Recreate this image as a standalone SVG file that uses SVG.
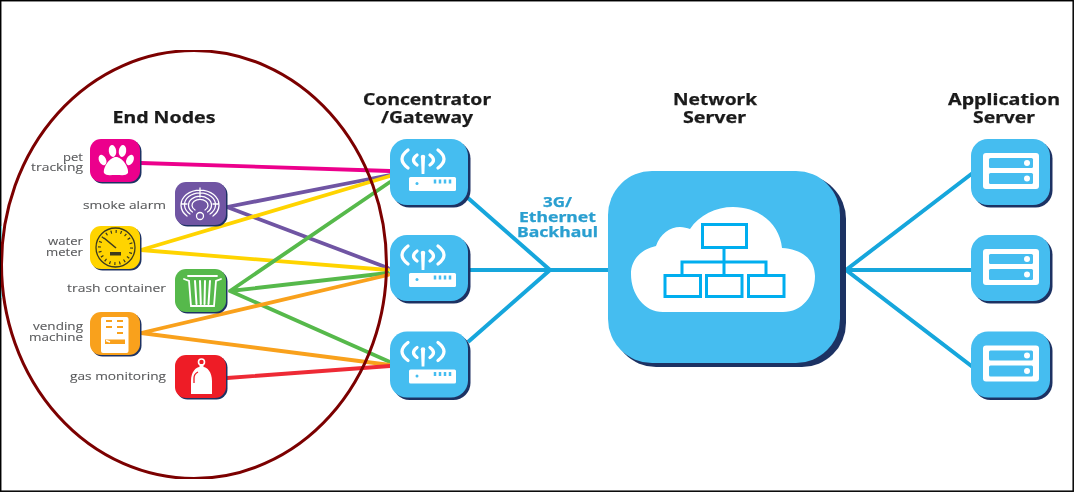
<svg xmlns="http://www.w3.org/2000/svg" width="1074" height="492" viewBox="0 0 1074 492">
<style>
.h{font-family:"Noto Sans","Open Sans","Liberation Sans",sans-serif;font-weight:700;font-size:16.500px;fill:#1a1a1a;stroke:#1a1a1a;stroke-width:.25}
.b{font-family:"Noto Sans","Open Sans","Liberation Sans",sans-serif;font-weight:700;font-size:15px;fill:#2a9fd0;stroke:#2a9fd0;stroke-width:.25}
.l{font-family:"Open Sans","Liberation Sans",sans-serif;font-size:11.500px;fill:#58595b;stroke:#58595b;stroke-width:.1}
.sh{fill:#1f3364}
.bl{fill:#44bdf0}
.w{fill:#fff}
.ws{fill:none;stroke:#fff;stroke-linecap:round}
.c{fill:none;stroke-width:3.800;stroke-linecap:round}
.bk{fill:none;stroke:#14a6dc;stroke-width:4}
.o{fill:none;stroke:#00aeef;stroke-width:3}
</style>
<defs>
<filter id="soft" x="0" y="0" width="100%" height="100%"><feGaussianBlur stdDeviation="0.4"/></filter>
<g id="gw">
<rect class="sh" x="2.500" y="2.500" width="78" height="66" rx="17"/>
<rect class="bl" width="78" height="66" rx="17"/>
<path class="ws" stroke-width="3.300" d="M18 11Q6 20 18 29M48 11Q60 20 48 29M27 16Q20 21 27 26M40 16Q47 21 40 26"/>
<circle class="w" cx="33" cy="18" r="2.300"/>
<path class="w" d="M31 18h4l-.6 17h-2.800z"/>
<rect class="w" x="19" y="38" width="47" height="14" rx="1.500"/>
<circle class="bl" cx="27" cy="44.500" r="1.500"/>
<path d="M45 40.500v4M50 40.500v4M55 40.500v4M60 40.500v4" stroke="#44bdf0" stroke-width="2.500"/>
</g>
<g id="srv">
<rect class="sh" x="2.500" y="2.500" width="79" height="66" rx="17"/>
<rect class="bl" width="79" height="66" rx="17"/>
<rect class="w" x="12" y="14" width="56" height="36" rx="3"/>
<rect class="bl" x="18" y="19" width="44" height="10" rx="1.500"/>
<rect class="bl" x="18" y="34" width="44" height="11" rx="1.500"/>
<circle class="w" cx="56" cy="24" r="3"/>
<circle class="w" cx="56" cy="39.500" r="3"/>
</g>
</defs>
<rect width="1074" height="492" fill="#fff"/>
<rect x="0.700" y="0.700" width="1072.500" height="490.500" fill="none" stroke="#000" stroke-width="1.500"/>
<g filter="url(#soft)">
<path d="M1 226V298" stroke="#5fe3ea" stroke-width="1.500"/>

<g id="connectors">
<path class="c" stroke="#ec008c" d="M141 163L390 171"/>
<path class="c" stroke="#6f54a3" d="M227 207L390 175M227 207L388 268"/>
<path class="c" stroke="#ffd400" d="M141 250L390 176M141 250L388 270"/>
<path class="c" stroke="#57b94b" d="M230 291L390 182M230 291L388 273M230 291L390 362"/>
<path class="c" stroke="#f9a11b" d="M141 333L388 275M141 333L390 365"/>
<path class="c" stroke="#ee2a35" d="M227 378L390 366"/>
<path class="bk" d="M468 198L550 270L468 342M470 270H610"/>
<path class="bk" d="M974 172L846 270L974 368M846 270H974"/>
</g>

<g id="node-pet">
<rect class="sh" x="91.500" y="140.500" width="50" height="43" rx="11"/>
<rect x="90" y="139" width="50" height="43" rx="11" fill="#ec008c"/>
<ellipse class="w" cx="102.500" cy="160" rx="3.500" ry="5.500" transform="rotate(-25 102.500 160)"/>
<ellipse class="w" cx="112.500" cy="151" rx="3.700" ry="6" transform="rotate(-8 112.500 151)"/>
<ellipse class="w" cx="122.500" cy="151" rx="3.700" ry="6" transform="rotate(8 122.500 151)"/>
<ellipse class="w" cx="130" cy="160" rx="3.500" ry="5.500" transform="rotate(25 130 160)"/>
<path class="w" d="M104 173C103 167 110 157 116 157C122 157 129 167 128 173C126 176 122 175 116 175C110 175 106 176 104 173Z"/>
<text class="l" x="63" y="160.500" textLength="20" lengthAdjust="spacingAndGlyphs">pet</text>
<text class="l" x="31" y="171" textLength="52" lengthAdjust="spacingAndGlyphs">tracking</text>
</g>

<g id="node-smoke">
<rect class="sh" x="176.500" y="183.500" width="51" height="43" rx="11"/>
<rect x="175" y="182" width="51" height="43" rx="11" fill="#6f54a3"/>
<path class="ws" stroke-width="1.300" d="M187 216A19 15 0 1 1 213 216M190 214A15.500 12 0 1 1 210 214M192.500 212A11.500 9 0 1 1 207.500 212M195 210A8 6 0 1 1 205 210M200 188V197M181 204H187M213 204H219"/>
<circle cx="200" cy="216" r="3.500" fill="none" stroke="#fff" stroke-width="1.300"/>
<text class="l" x="83" y="209" textLength="83" lengthAdjust="spacingAndGlyphs">smoke alarm</text>
</g>

<g id="node-water">
<rect class="sh" x="91.500" y="227.500" width="50" height="43" rx="11"/>
<rect x="90" y="226" width="50" height="43" rx="11" fill="#ffd400"/>
<circle cx="115.500" cy="247.500" r="19.500" fill="none" stroke="#3d3a1e" stroke-width="1.300"/>
<circle cx="115.500" cy="247.500" r="16" fill="none" stroke="#3d3a1e" stroke-width="3" stroke-dasharray="1.200 3.800"/>
<path d="M104 238L116 248" stroke="#3d3a1e" stroke-width="1.600"/>
<rect x="110" y="252" width="11" height="3.500" fill="#3d3a1e"/>
<text class="l" x="48" y="245" textLength="35" lengthAdjust="spacingAndGlyphs">water</text>
<text class="l" x="46" y="255.500" textLength="37" lengthAdjust="spacingAndGlyphs">meter</text>
</g>

<g id="node-trash">
<rect class="sh" x="176.500" y="270.500" width="51" height="43" rx="11"/>
<rect x="175" y="269" width="51" height="43" rx="11" fill="#57b94b"/>
<path class="ws" stroke-width="1.800" d="M188 276H217M184 279L189 281L191 306H214L216 281L221 279"/>
<path class="ws" stroke-width="2" d="M195 281L196.500 304M200 281L200.800 304M205 281L204.500 304M210 281L208.500 304"/>
<text class="l" x="67" y="292" textLength="99" lengthAdjust="spacingAndGlyphs">trash container</text>
</g>

<g id="node-vending">
<rect class="sh" x="91.500" y="313.500" width="50" height="43" rx="11"/>
<rect x="90" y="312" width="50" height="43" rx="11" fill="#f9a11b"/>
<rect class="w" x="101" y="317" width="27.500" height="36" rx="2"/>
<path d="M106 321H112M117 321H123M106 327H112M117 327H123M117 333H123" fill="none" stroke="#f9a11b" stroke-width="2"/>
<path d="M105 339.500H125V344H105Z" fill="#f9a11b"/>
<path d="M106 340.500L110 342" stroke="#fff" stroke-width="1.500"/>
<text class="l" x="33" y="330" textLength="50" lengthAdjust="spacingAndGlyphs">vending</text>
<text class="l" x="29" y="340.500" textLength="54" lengthAdjust="spacingAndGlyphs">machine</text>
</g>

<g id="node-gas">
<rect class="sh" x="176.500" y="356.500" width="51" height="43" rx="11"/>
<rect x="175" y="355" width="51" height="43" rx="11" fill="#ee1c25"/>
<path class="w" d="M191 394V381C191 372 196 367 199.500 367V364H203.500V367C207 367 212 372 212 381V394Z"/>
<circle cx="201.500" cy="362" r="3" fill="none" stroke="#fff" stroke-width="1.600"/>
<path d="M194 383V378C194 375 196 373 198 372" fill="none" stroke="#ee1c25" stroke-width="1.300"/>
<text class="l" x="70" y="380" textLength="96" lengthAdjust="spacingAndGlyphs">gas monitoring</text>
</g>

<text class="h" x="112.500" y="123" textLength="103" lengthAdjust="spacingAndGlyphs">End Nodes</text>

<g id="node-gateway-1"><use href="#gw" x="390" y="139"/></g>
<g id="node-gateway-2"><use href="#gw" x="390" y="235"/></g>
<g id="node-gateway-3"><use href="#gw" x="390" y="331.500"/></g>
<text class="h" x="363" y="105" textLength="128" lengthAdjust="spacingAndGlyphs">Concentrator</text>
<text class="h" x="381" y="123" textLength="92" lengthAdjust="spacingAndGlyphs">/Gateway</text>

<g id="backhaul-label">
<text class="b" x="543" y="207" textLength="29" lengthAdjust="spacingAndGlyphs">3G/</text>
<text class="b" x="519" y="222" textLength="77" lengthAdjust="spacingAndGlyphs">Ethernet</text>
<text class="b" x="517" y="236.500" textLength="81" lengthAdjust="spacingAndGlyphs">Backhaul</text>
</g>

<g id="node-network-server">
<rect class="sh" x="612" y="175" width="234" height="192" rx="44"/>
<rect class="bl" x="608" y="171" width="232" height="192" rx="44"/>
<path class="w" d="M663 312C644 312 631 294 631 274C631 259 642 249 656 246C660 234 670 227 680 227C684 227 687 228 690 229C699 215 716 207 733 207C760 207 780 225 782 248C801 249 815 259 815 276C815 296 802 312 783 312Z"/>
<rect class="o" x="702.500" y="224.500" width="44" height="23"/>
<rect class="o" x="665" y="275.500" width="35.500" height="21"/>
<rect class="o" x="706.500" y="275.500" width="35.500" height="21"/>
<rect class="o" x="748.500" y="275.500" width="35.500" height="21"/>
<path class="o" d="M724 249V274M682 274V262H766V274"/>
<text class="h" x="673" y="105" textLength="84" lengthAdjust="spacingAndGlyphs">Network</text>
<text class="h" x="683" y="123" textLength="63" lengthAdjust="spacingAndGlyphs">Server</text>
</g>

<g id="node-app-1"><use href="#srv" x="971" y="139"/></g>
<g id="node-app-2"><use href="#srv" x="971" y="235"/></g>
<g id="node-app-3"><use href="#srv" x="971" y="331.500"/></g>
<text class="h" x="948" y="105" textLength="112" lengthAdjust="spacingAndGlyphs">Application</text>
<text class="h" x="973" y="123" textLength="62" lengthAdjust="spacingAndGlyphs">Server</text>

<ellipse id="end-nodes-ring" cx="194" cy="264.500" rx="192.500" ry="214" fill="none" stroke="#7b0000" stroke-width="3"/>
</g>
</svg>
